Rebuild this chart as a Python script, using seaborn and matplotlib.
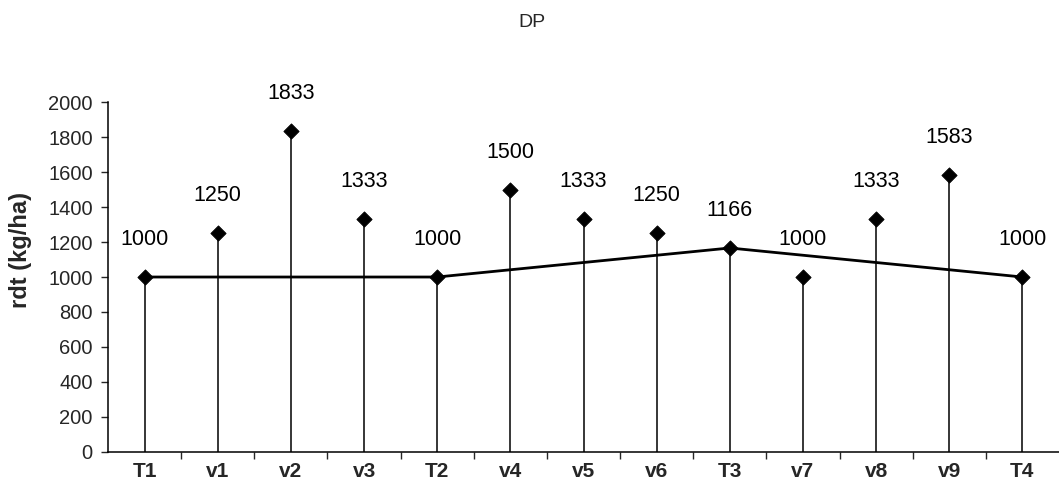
import matplotlib
matplotlib.use("Agg")
import matplotlib.pyplot as plt
import seaborn as sns
import pandas as pd

# Yield per entry: checks (T) and varieties (v)
entries = ["T1", "v1", "v2", "v3", "T2", "v4", "v5", "v6", "T3", "v7", "v8", "v9", "T4"]
yields = [1000, 1250, 1833, 1333, 1000, 1500, 1333, 1250, 1166, 1000, 1333, 1583, 1000]
checks = ["T1", "T2", "T3", "T4"]
y_ticks = [0, 200, 400, 600, 800, 1000, 1200, 1400, 1600, 1800, 2000]

sns.set_theme(style="ticks")
plt.rcParams["font.family"] = ["Liberation Sans", "DejaVu Sans"]

df = pd.DataFrame({"entry": entries, "rdt": yields})
df["pos"] = range(len(entries))
check_df = df[df["entry"].isin(checks)]

fig = plt.figure(figsize=(10.59, 4.96), dpi=100)
ax = fig.add_axes([0.102, 0.089, 0.898, 0.705])

# stems from the axis up to each value
ax.vlines(df["pos"], 0, df["rdt"], color="black", linewidth=1.1, zorder=1)

# line through the check entries
sns.lineplot(data=check_df, x="pos", y="rdt", color="black", linewidth=2.0,
             ax=ax, zorder=2, legend=False)

# diamond markers
sns.scatterplot(data=df, x="pos", y="rdt", marker="D", s=60, color="black",
                edgecolor="black", ax=ax, zorder=3, legend=False)

for p, v in zip(df["pos"], df["rdt"]):
    ax.annotate(str(v), (p, v), xytext=(0, 27), textcoords="offset points",
                ha="center", va="center", fontsize=15.5, color="black",
                annotation_clip=False)

ax.set_xlim(-0.5, len(entries) - 0.5)
ax.set_ylim(0, 2000)
ax.set_yticks(y_ticks)
ax.set_yticklabels([str(t) for t in y_ticks], fontsize=14.5)

# category labels centred, tick marks between categories
ax.set_xticks(range(len(entries)))
ax.set_xticklabels(entries, fontsize=15, fontweight="bold")
ax.tick_params(axis="x", which="major", length=0, pad=7)
ax.set_xticks([i + 0.5 for i in range(len(entries) - 1)], minor=True)
ax.tick_params(axis="x", which="minor", length=5, width=1, direction="out")
ax.tick_params(axis="y", length=5, width=1, direction="out", pad=6)

ax.set_xlabel("")
ax.set_ylabel("rdt (kg/ha)", fontsize=17, fontweight="bold")
ax.yaxis.set_label_coords(-0.08, 0.577)

for side in ("top", "right"):
    ax.spines[side].set_visible(False)
for side in ("left", "bottom"):
    ax.spines[side].set_color("black")
    ax.spines[side].set_linewidth(1.1)

fig.text(0.502, 0.955, "DP", ha="center", va="center", fontsize=14)

fig.savefig("out.png", dpi=100, facecolor="white")
